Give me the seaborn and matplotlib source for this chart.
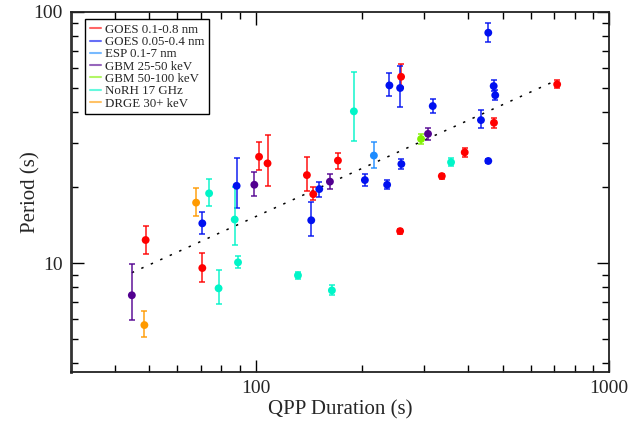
import numpy as np
import pandas as pd
import matplotlib
matplotlib.use("Agg")
import matplotlib.pyplot as plt
import seaborn as sns
from matplotlib.lines import Line2D
from matplotlib.ticker import FixedLocator, NullFormatter, FuncFormatter, LogLocator

# ---- data ----
goes_long_x = [48.8, 70.6, 102.2, 108.0, 139.6, 145.5, 170.9, 257.9, 256.3, 336.3, 390.5, 472.5, 713.3]
goes_long_y = [12.35, 9.55, 26.5, 24.95, 22.4, 18.8, 25.6, 55.2, 13.4, 22.2, 27.6, 36.2, 51.5]
goes_long_lo = [10.89, 8.40, 23.5, 20.3, 19.3, 17.8, 23.7, 50.4, 13.1, 21.7, 26.5, 34.6, 49.7]
goes_long_hi = [14.08, 10.96, 30.4, 32.3, 26.5, 20.1, 27.5, 61.9, 13.7, 22.7, 28.6, 37.9, 53.4]

goes_short_x = [70.6, 88.3, 143.6, 151.3, 203.7, 235.5, 239.0, 256.3, 258.4, 317.0, 434.1, 455.3, 455.3, 471.6, 476.4]
goes_short_y = [14.39, 20.3, 14.8, 19.7, 21.4, 20.5, 51.0, 49.8, 24.8, 42.2, 37.1, 82.7, 25.5, 50.7, 46.6]
goes_short_lo = [13.05, 16.5, 12.8, 18.4, 20.2, 19.7, 46.3, 42.0, 23.6, 39.7, 34.4, 75.9, 25.0, 48.3, 44.6]
goes_short_hi = [15.97, 26.1, 17.5, 21.0, 22.6, 21.4, 57.0, 61.1, 26.0, 45.1, 40.6, 90.4, 26.0, 53.6, 48.9]

esp_x = [216.0]
esp_y = [26.8]
esp_lo = [23.8]
esp_hi = [30.4]

gbm25_x = [44.6, 99.1, 162.2, 307.4]
gbm25_y = [7.44, 20.5, 21.1, 32.7]
gbm25_lo = [5.93, 18.5, 19.8, 30.9]
gbm25_hi = [9.91, 23.0, 22.6, 34.4]

gbm50_x = [293.8]
gbm50_y = [31.2]
gbm50_lo = [29.7]
gbm50_hi = [32.7]

norh_x = [73.8, 78.5, 87.2, 89.1, 131.7, 164.3, 189.6, 357.2]
norh_y = [18.95, 7.93, 14.9, 10.06, 8.93, 7.78, 40.2, 25.2]
norh_lo = [16.8, 6.87, 11.8, 9.52, 8.66, 7.46, 30.7, 24.4]
norh_hi = [21.6, 9.35, 20.0, 10.7, 9.21, 8.19, 57.8, 26.1]

drge_x = [48.4, 67.8]
drge_y = [5.66, 17.4]
drge_lo = [5.07, 15.4]
drge_hi = [6.44, 19.9]

fit_x = [44.6, 713.3]
fit_y = [9.15, 53.6]

labels = ["GOES 0.1-0.8 nm", "GOES 0.05-0.4 nm", "ESP 0.1-7 nm", "GBM 25-50 keV",
          "GBM 50-100 keV", "NoRH 17 GHz", "DRGE 30+ keV"]
colors = ["#FF0000", "#0010F0", "#1E8CFF", "#520090", "#80F000", "#00F5C8", "#FF9A00"]

groups = [
    (goes_long_x, goes_long_y, goes_long_lo, goes_long_hi),
    (goes_short_x, goes_short_y, goes_short_lo, goes_short_hi),
    (esp_x, esp_y, esp_lo, esp_hi),
    (gbm25_x, gbm25_y, gbm25_lo, gbm25_hi),
    (gbm50_x, gbm50_y, gbm50_lo, gbm50_hi),
    (norh_x, norh_y, norh_lo, norh_hi),
    (drge_x, drge_y, drge_lo, drge_hi),
]

rows = []
for lab, (xs, ys, los, his) in zip(labels, groups):
    for x, y, lo, hi in zip(xs, ys, los, his):
        rows.append({"dur": x, "per": y, "lo": lo, "hi": hi, "inst": lab})
df = pd.DataFrame(rows)

sns.set_style("ticks")
plt.rcParams["font.family"] = ["Liberation Serif", "DejaVu Serif"]
plt.rcParams["mathtext.fontset"] = "stix"

fig = plt.figure(figsize=(6.44, 4.23), dpi=100)
ax = fig.add_axes([71 / 644, 1 - 372 / 423, 538 / 644, 360 / 423])
ax.set_xscale("log")
ax.set_yscale("log")

# dotted fit line
sns.lineplot(x=fit_x, y=fit_y, ax=ax, color="black", linestyle=(0, (1.6, 5.2)), linewidth=1.1,
             legend=False, zorder=1)

palette = dict(zip(labels, colors))
for lab in labels:
    sub = df[df["inst"] == lab]
    yerr = np.vstack([sub["per"] - sub["lo"], sub["hi"] - sub["per"]])
    ax.errorbar(sub["dur"], sub["per"], yerr=yerr, fmt="none", ecolor=palette[lab],
                elinewidth=1.2, capsize=2.5, capthick=1.2, alpha=0.85, zorder=2)

sns.scatterplot(data=df, x="dur", y="per", hue="inst", palette=palette, hue_order=labels,
                s=32, edgecolor="none", linewidth=0, ax=ax, legend=False, zorder=3)

ax.set_xlim(30, 1000)
ax.set_ylim(3.68, 100)

fmt = FuncFormatter(lambda v, p: f"{v:g}")
ax.xaxis.set_major_locator(FixedLocator([100, 1000]))
ax.yaxis.set_major_locator(FixedLocator([10, 100]))
ax.xaxis.set_major_formatter(fmt)
ax.yaxis.set_major_formatter(fmt)
ax.xaxis.set_minor_locator(LogLocator(base=10, subs=np.arange(2, 10)))
ax.yaxis.set_minor_locator(LogLocator(base=10, subs=np.arange(2, 10)))
ax.xaxis.set_minor_formatter(NullFormatter())
ax.yaxis.set_minor_formatter(NullFormatter())

ax.tick_params(which="both", direction="in", top=True, right=True, color="black")
ax.tick_params(which="major", length=9, width=1.0, labelsize=14, pad=6)
ax.tick_params(which="minor", length=5, width=1.0)
for sp in ax.spines.values():
    sp.set_linewidth(1.3)
    sp.set_color("#222222")
ax.spines["left"].set_linewidth(2.0)
ax.spines["left"].set_color("#333333")

ax.set_xlabel("QPP Duration (s)", fontsize=15, labelpad=2)
ax.set_ylabel("Period (s)", fontsize=15, labelpad=-5)

handles = [Line2D([0], [0], color=c, lw=1.5, alpha=0.6) for c in colors]
leg = ax.legend(handles, labels, loc="upper left", bbox_to_anchor=(0.026, 0.98),
                borderaxespad=0, fontsize=9.3, frameon=True, fancybox=False,
                edgecolor="black", framealpha=1, handlelength=0.9, handletextpad=0.3,
                labelspacing=0.02, borderpad=0.35)
leg.get_frame().set_linewidth(1.0)

fig.savefig("out.png", dpi=100)
